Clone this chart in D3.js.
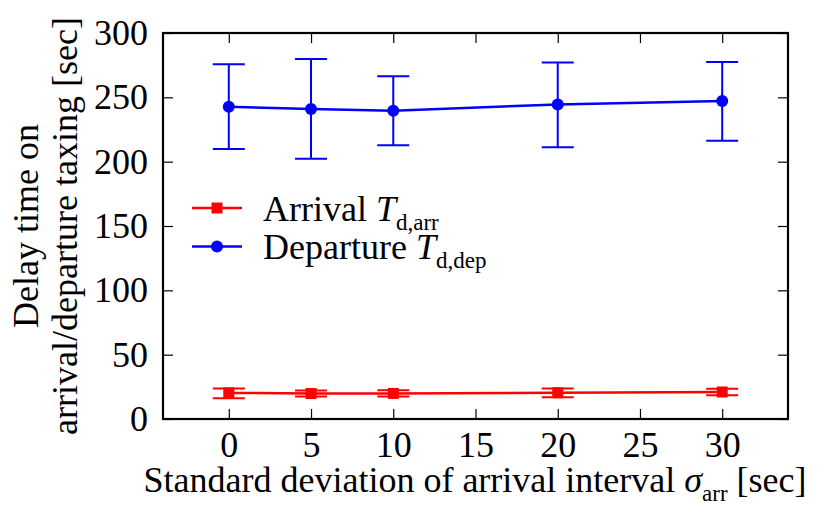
<!DOCTYPE html>
<html>
<head>
<meta charset="utf-8">
<script src="https://cdn.jsdelivr.net/npm/d3@7"></script>
<style>
  body { margin: 0; background: #fff; }
</style>
</head>
<body>
<div id="chart"></div>
<script>
// Data
var sigma = [0, 5, 10, 20, 30];
var arrMean = [20.3, 19.8, 19.9, 20.4, 21.0];
var arrLow = [16.2, 17.4, 17.5, 17.0, 18.4];
var arrHigh = [23.8, 22.2, 22.4, 23.8, 23.6];
var depMean = [242.7, 240.9, 239.6, 244.5, 247.1];
var depLow = [209.8, 202.3, 212.7, 211.3, 216.2];
var depHigh = [275.8, 279.7, 266.3, 277.1, 277.4];
var xTicks = [0, 5, 10, 15, 20, 25, 30];
var yTicks = [0, 50, 100, 150, 200, 250, 300];

const fontFamily = "Liberation Serif";
const fontSize = 36;
const subSize = 23;

const svg = d3.select("#chart").append("svg")
  .attr("width", 827)
  .attr("height", 505)
  .attr("font-family", fontFamily);
const margin = { top: 33, left: 163, right: 39, bottom: 86 };
const width = 827 - margin.left - margin.right;
const height = 505 - margin.top - margin.bottom;
const chart = svg.append("g").attr("transform", `translate(${margin.left},${margin.top})`);

const x = d3.scaleLinear().domain([-4, 34]).range([0, width]);
const y = d3.scaleLinear().domain([0, 300]).range([height, 0]);

function styleAxis(g) {
  g.attr("font-family", fontFamily).attr("font-size", fontSize);
  g.select(".domain").remove();
  g.selectAll(".tick line").attr("stroke", "#000").attr("stroke-width", 1.2);
  g.selectAll(".tick text").attr("fill", "#000");
}

chart.append("g").attr("transform", `translate(0,${height})`)
  .call(d3.axisBottom(x).tickValues(xTicks).tickSize(-10).tickPadding(12))
  .call(styleAxis);
chart.append("g")
  .call(d3.axisTop(x).tickValues(xTicks).tickSize(-10).tickFormat(""))
  .call(styleAxis);
chart.append("g")
  .call(d3.axisLeft(y).tickValues(yTicks).tickSize(-10).tickPadding(15))
  .call(styleAxis);
chart.append("g").attr("transform", `translate(${width},0)`)
  .call(d3.axisRight(y).tickValues(yTicks).tickSize(-10).tickFormat(""))
  .call(styleAxis);

// frame
chart.append("rect")
  .attr("width", width).attr("height", height)
  .attr("fill", "none").attr("stroke", "#000").attr("stroke-width", 2.2);

const series = [
  { name: "Arrival", sub: "d,arr", color: "#ff0000", mean: arrMean, low: arrLow, high: arrHigh, shape: "square" },
  { name: "Departure", sub: "d,dep", color: "#0000ff", mean: depMean, low: depLow, high: depHigh, shape: "circle" }
];

const capW = 16;
series.forEach(s => {
  const pts = sigma.map((v, i) => ({ x: v, m: s.mean[i], lo: s.low[i], hi: s.high[i] }));
  const g = chart.append("g");
  g.append("path").datum(pts)
    .attr("fill", "none").attr("stroke", s.color).attr("stroke-width", 2.5)
    .attr("d", d3.line().x(d => x(d.x)).y(d => y(d.m)));
  const eb = g.selectAll(".eb").data(pts).enter().append("g");
  eb.append("line")
    .attr("x1", d => x(d.x)).attr("x2", d => x(d.x))
    .attr("y1", d => y(d.lo)).attr("y2", d => y(d.hi))
    .attr("stroke", s.color).attr("stroke-width", 2);
  eb.append("line")
    .attr("x1", d => x(d.x) - capW).attr("x2", d => x(d.x) + capW)
    .attr("y1", d => y(d.lo)).attr("y2", d => y(d.lo))
    .attr("stroke", s.color).attr("stroke-width", 2);
  eb.append("line")
    .attr("x1", d => x(d.x) - capW).attr("x2", d => x(d.x) + capW)
    .attr("y1", d => y(d.hi)).attr("y2", d => y(d.hi))
    .attr("stroke", s.color).attr("stroke-width", 2);
  if (s.shape === "circle") {
    g.selectAll(".pt").data(pts).enter().append("circle")
      .attr("cx", d => x(d.x)).attr("cy", d => y(d.m)).attr("r", 6)
      .attr("fill", s.color);
  } else {
    g.selectAll(".pt").data(pts).enter().append("rect")
      .attr("x", d => x(d.x) - 5.5).attr("y", d => y(d.m) - 5.5)
      .attr("width", 11).attr("height", 11)
      .attr("fill", s.color);
  }
});

// legend
const legend = svg.append("g").attr("transform", "translate(192,208)");
series.forEach((s, i) => {
  const row = legend.append("g").attr("transform", `translate(0,${i * 38.5})`);
  row.append("line").attr("x1", 0).attr("x2", 50).attr("y1", 0).attr("y2", 0)
    .attr("stroke", s.color).attr("stroke-width", 2.5);
  if (s.shape === "circle") {
    row.append("circle").attr("cx", 25).attr("cy", 0).attr("r", 6).attr("fill", s.color);
  } else {
    row.append("rect").attr("x", 19.5).attr("y", -5.5).attr("width", 11).attr("height", 11).attr("fill", s.color);
  }
  const t = row.append("text").attr("x", 71).attr("y", 12.5).attr("font-size", fontSize);
  t.append("tspan").text(s.name + " ");
  t.append("tspan").attr("font-style", "italic").text("T");
  t.append("tspan").attr("font-size", subSize).attr("dy", 9).text(s.sub);
});

// axis titles
const xt = svg.append("text").attr("x", 475).attr("y", 492)
  .attr("text-anchor", "middle").attr("font-size", fontSize);
xt.append("tspan").text("Standard deviation of arrival interval ");
xt.append("tspan").attr("font-style", "italic").text("σ");
xt.append("tspan").attr("font-size", subSize).attr("dy", 9).text("arr");
xt.append("tspan").attr("dy", -9).text(" [sec]");

const yt = svg.append("text")
  .attr("transform", `translate(0,${margin.top + height / 2}) rotate(-90)`)
  .attr("text-anchor", "middle").attr("font-size", fontSize);
yt.append("tspan").attr("x", 0).attr("y", 38).text("Delay time on");
yt.append("tspan").attr("x", 0).attr("y", 77).text("arrival/departure taxing [sec]");
</script>
</body>
</html>
